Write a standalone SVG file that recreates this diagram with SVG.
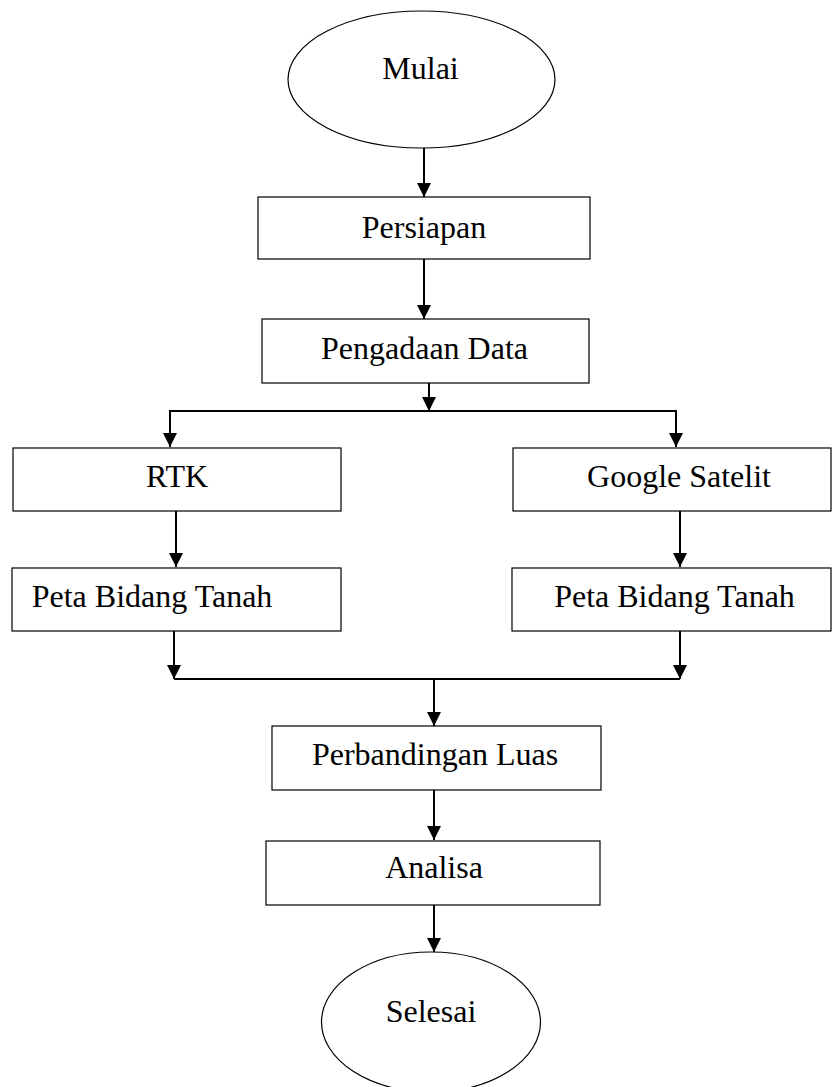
<svg xmlns="http://www.w3.org/2000/svg" width="832" height="1087" viewBox="0 0 832 1087">
<style>
.node{fill:#fff;stroke:#000;stroke-width:1.2}
.lbl{font-family:"Liberation Serif","Times New Roman",serif;font-size:32px;fill:#000}
.c{text-anchor:middle}
.conn{fill:none;stroke:#000;stroke-width:2}
</style>
<defs>
<marker id="arr" viewBox="0 0 14 14" refX="14" refY="7" markerWidth="14" markerHeight="14" markerUnits="userSpaceOnUse" orient="auto">
<path d="M0,0 L14,7 L0,14 z" fill="#000"/>
</marker>
</defs>
<rect width="832" height="1087" fill="#fff"/>
<g id="connectors">
<path class="conn" d="M424,148 V197" marker-end="url(#arr)"/>
<path class="conn" d="M424,259 V319" marker-end="url(#arr)"/>
<path class="conn" d="M429,383 V411" marker-end="url(#arr)"/>
<path class="conn" d="M429,411 H170 V447" marker-end="url(#arr)"/>
<path class="conn" d="M429,411 H676 V447" marker-end="url(#arr)"/>
<path class="conn" d="M176,511 V567" marker-end="url(#arr)"/>
<path class="conn" d="M680,511 V567" marker-end="url(#arr)"/>
<path class="conn" d="M174,631 V679" marker-end="url(#arr)"/>
<path class="conn" d="M680,631 V679" marker-end="url(#arr)"/>
<path class="conn" d="M174,679 H680"/>
<path class="conn" d="M434,679 V726" marker-end="url(#arr)"/>
<path class="conn" d="M434,790 V840" marker-end="url(#arr)"/>
<path class="conn" d="M434,905 V952" marker-end="url(#arr)"/>
</g>
<g id="mulai">
<ellipse class="node" cx="421.5" cy="79.5" rx="133.5" ry="68.5"/>
<text class="lbl c" x="420.5" y="79">Mulai</text>
</g>
<g id="persiapan">
<rect class="node" x="258" y="197" width="332" height="62"/>
<text class="lbl c" x="424" y="238">Persiapan</text>
</g>
<g id="pengadaan">
<rect class="node" x="262" y="319" width="327" height="64"/>
<text class="lbl c" x="424.5" y="359">Pengadaan Data</text>
</g>
<g id="rtk">
<rect class="node" x="13" y="448" width="328" height="63"/>
<text class="lbl c" x="177" y="487">RTK</text>
</g>
<g id="google">
<rect class="node" x="513" y="448" width="318" height="63"/>
<text class="lbl c" x="679" y="487">Google Satelit</text>
</g>
<g id="peta-rtk">
<rect class="node" x="12" y="568" width="329" height="63"/>
<text class="lbl" x="31.7" y="607">Peta Bidang Tanah</text>
</g>
<g id="peta-google">
<rect class="node" x="512" y="568" width="319" height="63"/>
<text class="lbl c" x="674.5" y="607">Peta Bidang Tanah</text>
</g>
<g id="perbandingan">
<rect class="node" x="272" y="726" width="329" height="64"/>
<text class="lbl c" x="435" y="765">Perbandingan Luas</text>
</g>
<g id="analisa">
<rect class="node" x="266" y="841" width="334" height="64"/>
<text class="lbl c" x="434" y="878">Analisa</text>
</g>
<g id="selesai">
<ellipse class="node" cx="431" cy="1022" rx="109.5" ry="70"/>
<text class="lbl c" x="431" y="1022">Selesai</text>
</g>
</svg>
